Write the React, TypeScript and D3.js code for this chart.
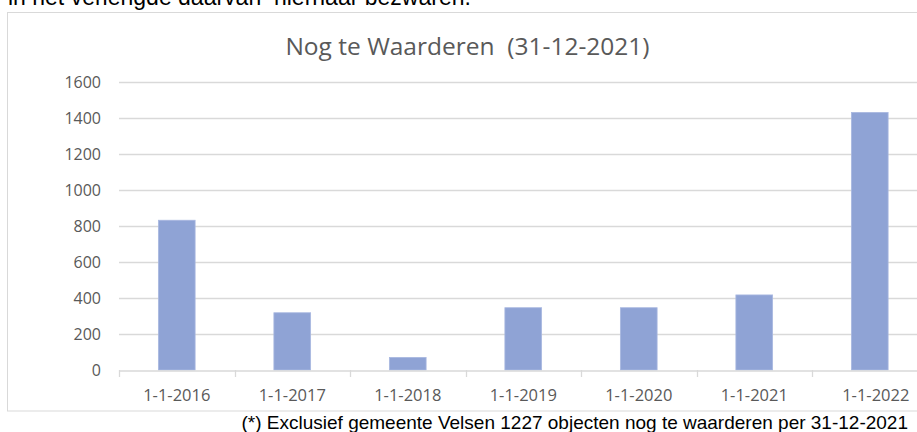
import React, { useEffect, useRef } from "react";
import * as d3 from "d3";

const width = 917;
const height = 432;

// chart values
const dates = ["1-1-2016", "1-1-2017", "1-1-2018", "1-1-2019", "1-1-2020", "1-1-2021", "1-1-2022"];
const counts = [832, 318, 70, 346, 346, 417, 1431];
const yTicks = [0, 200, 400, 600, 800, 1000, 1200, 1400, 1600];

const title = "Nog te Waarderen  (31-12-2021)";
const footnote = "(*) Exclusief gemeente Velsen 1227 objecten nog te waarderen per 31-12-2021";
const topLine = "in het verlengde daarvan  hiernaar bezwaren.";

const margin = { top: 82, right: -10.5, bottom: 62, left: 119 };

const grey = "#595959";
const lineGrey = "#d9d9d9";
const calibri = "'Open Sans', 'Liberation Sans', sans-serif";
const arial = "'Liberation Sans', Arial, sans-serif";

export default function App() {
    const ref = useRef<SVGSVGElement>(null);

    useEffect(() => {
        const svg = d3.select(ref.current);
        svg.selectAll("*").remove();

        const x = d3.scaleBand()
            .domain(dates)
            .range([margin.left, width - margin.right])
            .paddingInner(0.682)
            .paddingOuter(0.341);

        const y = d3.scaleLinear()
            .domain([0, 1600])
            .range([height - margin.bottom, margin.top]);

        // text cut off above the chart
        svg.append("text")
            .attr("x", 8)
            .attr("y", 5)
            .attr("font-family", arial)
            .attr("font-size", 23)
            .attr("fill", "#000")
            .style("white-space", "pre")
            .text(topLine);

        // chart frame
        svg.append("rect")
            .attr("x", 7.5)
            .attr("y", 12.5)
            .attr("width", 940)
            .attr("height", 398.5)
            .attr("fill", "#fff")
            .attr("stroke", lineGrey)
            .attr("stroke-width", 1);

        svg.append("text")
            .attr("x", 467.5)
            .attr("y", 55)
            .attr("text-anchor", "middle")
            .attr("font-family", calibri)
            .attr("font-size", 24.5)
            .attr("fill", grey)
            .style("white-space", "pre")
            .text(title);

        // gridlines
        svg.append("g")
            .selectAll("line")
            .data(yTicks.filter(d => d > 0))
            .join("line")
            .attr("x1", margin.left)
            .attr("x2", width)
            .attr("y1", d => Math.round(y(d)) + 0.5)
            .attr("y2", d => Math.round(y(d)) + 0.5)
            .attr("stroke", lineGrey)
            .attr("stroke-width", 1.3);

        // y labels
        svg.append("g")
            .selectAll("text")
            .data(yTicks)
            .join("text")
            .attr("x", 101)
            .attr("y", d => y(d))
            .attr("dy", "0.35em")
            .attr("text-anchor", "end")
            .attr("font-family", calibri)
            .attr("font-size", 16)
            .attr("fill", grey)
            .text(d => d);

        // bars
        svg.append("g")
            .selectAll("rect")
            .data(counts)
            .join("rect")
            .attr("x", (d, i) => x(dates[i])!)
            .attr("y", d => y(d))
            .attr("width", x.bandwidth())
            .attr("height", d => y(0) - y(d))
            .attr("fill", "#8fa3d5")
            .attr("stroke", "#a9b8e0")
            .attr("stroke-width", 0.8);

        // x axis
        const xAxis = d3.axisBottom(x).tickSize(0).tickPadding(0);
        const ax = svg.append("g")
            .attr("transform", `translate(0,${Math.round(y(0)) + 0.5})`)
            .call(xAxis);
        ax.select(".domain").attr("stroke", lineGrey).attr("stroke-width", 1.3);
        ax.selectAll("text")
            .attr("y", 30.5)
            .attr("dy", 0)
            .attr("font-family", calibri)
            .attr("font-size", 16.5)
            .attr("fill", grey)
            .attr("x", (d: any) => (d === "1-1-2022" ? 6 : 0));

        // tick marks between categories
        const step = x.step();
        svg.append("g")
            .selectAll("line")
            .data(d3.range(dates.length + 1))
            .join("line")
            .attr("x1", i => Math.round(margin.left + i * step) + 0.5)
            .attr("x2", i => Math.round(margin.left + i * step) + 0.5)
            .attr("y1", y(0))
            .attr("y2", y(0) + 7)
            .attr("stroke", lineGrey)
            .attr("stroke-width", 1.3);

        svg.append("text")
            .attr("x", 908)
            .attr("y", 429)
            .attr("text-anchor", "end")
            .attr("font-family", arial)
            .attr("font-size", 19)
            .attr("fill", "#000")
            .text(footnote);
    }, []);

    return (
        <svg
            ref={ref}
            width={width}
            height={height}
            style={{ position: "absolute", left: 0, top: 0, background: "#fff" }}
        />
    );
}
